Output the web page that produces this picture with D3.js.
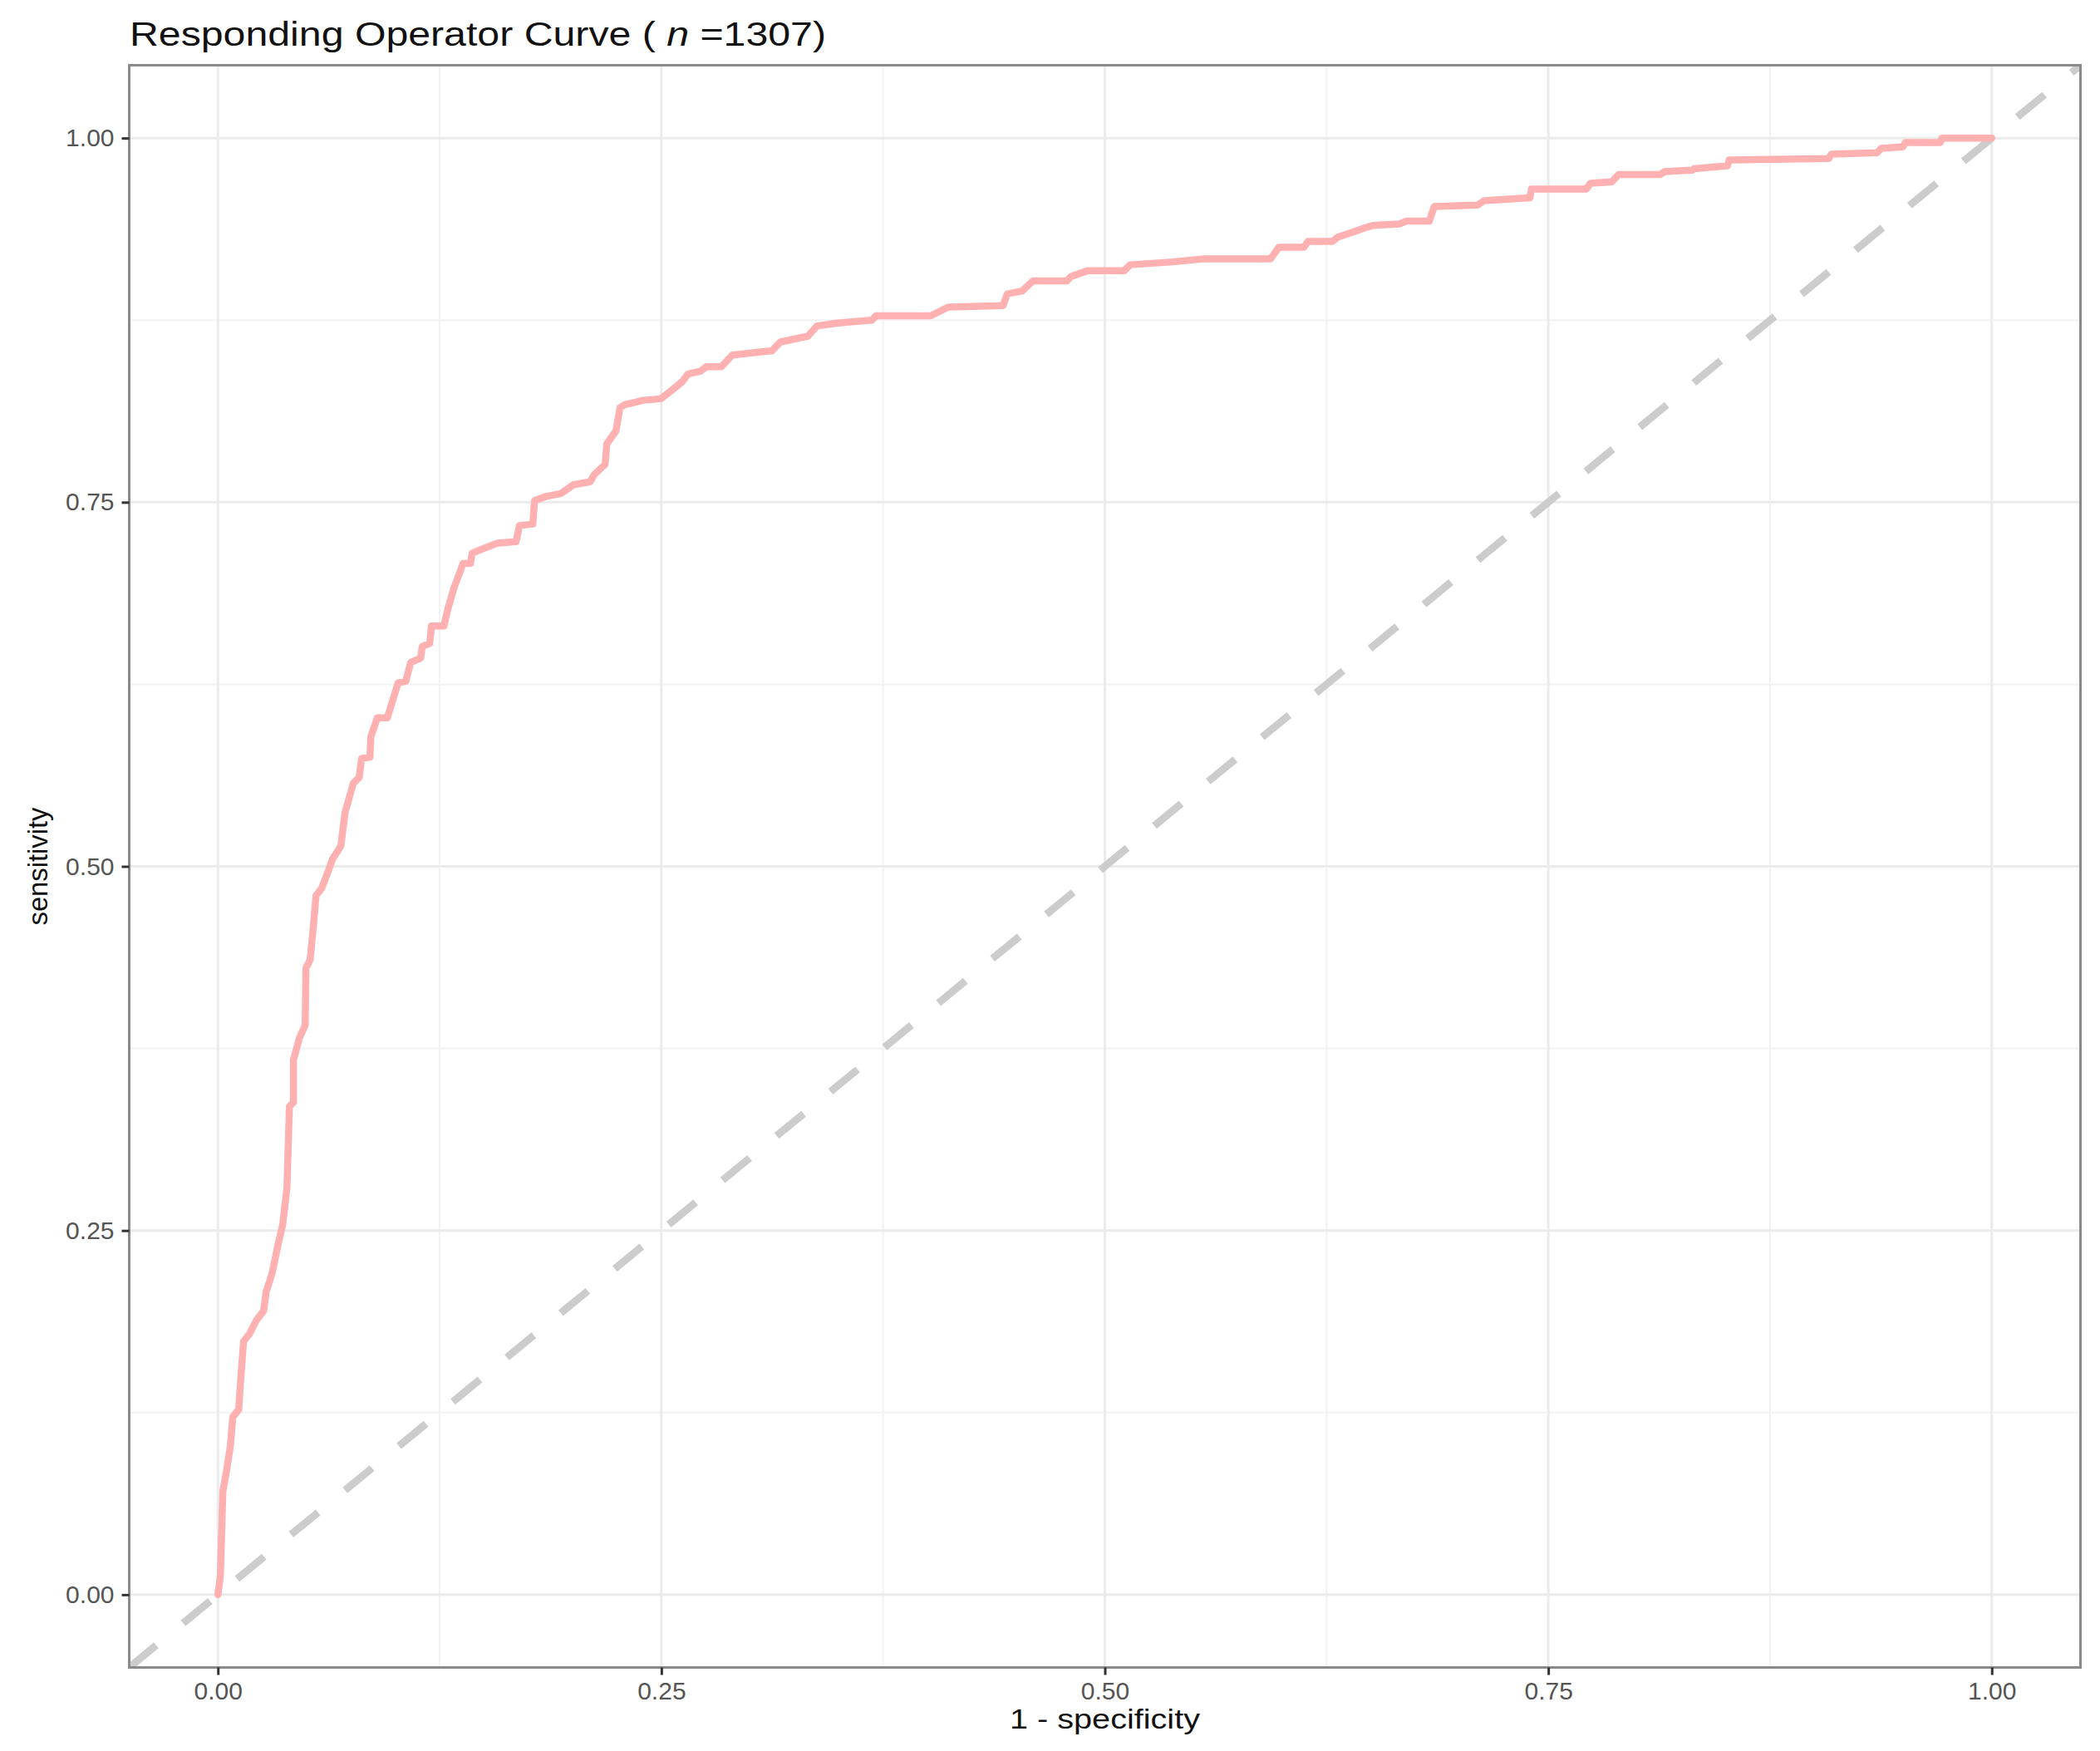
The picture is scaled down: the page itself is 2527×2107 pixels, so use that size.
<!DOCTYPE html>
<html>
<head>
<meta charset="utf-8">
<script src="https://cdn.jsdelivr.net/npm/d3@7"></script>
<style>
  html, body { margin: 0; padding: 0; background: #ffffff; }
  svg { display: block; }
  text { font-family: "Liberation Sans", Arial, Helvetica, sans-serif; }
</style>
</head>
<body>
<svg id="chart" width="2527" height="2107"></svg>
<script>
// ---- data ----
const titlePre = "Responding Operator Curve ( ";
const titleItalic = "n";
const titlePost = " =1307)";
const xAxisTitle = "1 - specificity";
const yAxisTitle = "sensitivity";

const majorTicks = [0, 0.25, 0.5, 0.75, 1];
const minorTicks = [0.125, 0.375, 0.625, 0.875];
const tickLabels = ["0.00", "0.25", "0.50", "0.75", "1.00"];

// ROC curve: 1 - specificity (fpr) and sensitivity (tpr)
const fpr = [0, 0.0014, 0.0028, 0.0047, 0.0070, 0.0084, 0.0117, 0.0131, 0.0145, 0.0178,
  0.0215, 0.0258, 0.0272, 0.0304, 0.0318, 0.0342, 0.0365, 0.0389, 0.0403, 0.0426,
  0.0426, 0.0459, 0.0492, 0.0496, 0.0520, 0.0539, 0.0553, 0.0585, 0.0623, 0.0646,
  0.0693, 0.0717, 0.0763, 0.0796, 0.0810, 0.0857, 0.0862, 0.0899, 0.0955, 0.1016,
  0.1059, 0.1087, 0.1143, 0.1152, 0.1194, 0.1204, 0.1274, 0.1297, 0.1330, 0.1358,
  0.1382, 0.1424, 0.1433, 0.1513, 0.1578, 0.1681, 0.1700, 0.1775, 0.1785, 0.1850,
  0.1934, 0.2005, 0.2098, 0.2122, 0.2183, 0.2192, 0.2244, 0.2267, 0.2295, 0.2398,
  0.2496, 0.2550, 0.2620, 0.2650, 0.2720, 0.2754, 0.2838, 0.2899, 0.3124, 0.3171,
  0.3326, 0.3377, 0.3494, 0.3686, 0.3710, 0.4019, 0.4117, 0.4426, 0.4450, 0.4534,
  0.4595, 0.4787, 0.4810, 0.4904, 0.5110, 0.5143, 0.5382, 0.5550, 0.5934, 0.5981,
  0.6122, 0.6145, 0.6281, 0.6314, 0.6389, 0.6482, 0.6511, 0.6660, 0.6698, 0.6829,
  0.6857, 0.7101, 0.7138, 0.7396, 0.7405, 0.7714, 0.7738, 0.7859, 0.7897, 0.8131,
  0.8155, 0.8314, 0.8323, 0.8510, 0.8520, 0.9082, 0.9096, 0.9354, 0.9377, 0.9499,
  0.9513, 0.9710, 0.9719, 1.0];
const tpr = [0, 0.013, 0.071, 0.084, 0.102, 0.122, 0.127, 0.152, 0.174, 0.179,
  0.188, 0.195, 0.208, 0.220, 0.228, 0.242, 0.254, 0.279, 0.335, 0.338,
  0.367, 0.382, 0.391, 0.430, 0.436, 0.460, 0.480, 0.485, 0.497, 0.505,
  0.514, 0.537, 0.557, 0.561, 0.574, 0.575, 0.589, 0.602, 0.602, 0.626,
  0.627, 0.640, 0.643, 0.651, 0.653, 0.665, 0.665, 0.677, 0.691, 0.700,
  0.708, 0.708, 0.715, 0.719, 0.722, 0.723, 0.734, 0.735, 0.751, 0.754,
  0.756, 0.762, 0.764, 0.769, 0.776, 0.790, 0.799, 0.815, 0.817, 0.820,
  0.821, 0.826, 0.833, 0.838, 0.840, 0.843, 0.843, 0.851, 0.854, 0.860,
  0.864, 0.871, 0.873, 0.875, 0.878, 0.878, 0.884, 0.885, 0.893, 0.895,
  0.902, 0.902, 0.905, 0.909, 0.909, 0.913, 0.915, 0.917, 0.917, 0.925,
  0.925, 0.929, 0.929, 0.932, 0.935, 0.939, 0.940, 0.941, 0.943, 0.943,
  0.953, 0.954, 0.957, 0.959, 0.965, 0.965, 0.969, 0.970, 0.975, 0.975,
  0.977, 0.978, 0.979, 0.981, 0.985, 0.986, 0.989, 0.990, 0.993, 0.994,
  0.997, 0.997, 1.000, 1.0];

// ---- layout ----
const svg = d3.select("#chart");
const panel = { left: 155.5, right: 2503.5, top: 78.5, bottom: 2006.5 };
const x = d3.scaleLinear().domain([-0.05, 1.05]).range([panel.left, panel.right]);
const y = d3.scaleLinear().domain([-0.05, 1.05]).range([panel.bottom, panel.top]);

svg.append("rect").attr("width", 2527).attr("height", 2107).attr("fill", "#ffffff");

// gridlines
const grid = svg.append("g");
minorTicks.forEach(v => {
  grid.append("line").attr("x1", x(v)).attr("x2", x(v)).attr("y1", panel.top).attr("y2", panel.bottom)
    .attr("stroke", "#f2f2f2").attr("stroke-width", 2);
  grid.append("line").attr("y1", y(v)).attr("y2", y(v)).attr("x1", panel.left).attr("x2", panel.right)
    .attr("stroke", "#f2f2f2").attr("stroke-width", 2);
});
majorTicks.forEach(v => {
  grid.append("line").attr("x1", x(v)).attr("x2", x(v)).attr("y1", panel.top).attr("y2", panel.bottom)
    .attr("stroke", "#ebebeb").attr("stroke-width", 3);
  grid.append("line").attr("y1", y(v)).attr("y2", y(v)).attr("x1", panel.left).attr("x2", panel.right)
    .attr("stroke", "#ebebeb").attr("stroke-width", 3);
});

// diagonal reference line
svg.append("clipPath").attr("id", "pclip").append("rect")
  .attr("x", panel.left).attr("y", panel.top)
  .attr("width", panel.right - panel.left).attr("height", panel.bottom - panel.top);

svg.append("line")
  .attr("clip-path", "url(#pclip)")
  .attr("x1", x(-0.05)).attr("y1", y(-0.05)).attr("x2", x(1.05)).attr("y2", y(1.05))
  .attr("stroke", "#cccccc").attr("stroke-width", 9)
  .attr("stroke-dasharray", "42,42");

// ROC curve
const pts = fpr.map((v, i) => [v, tpr[i]]);
svg.append("path")
  .datum(pts)
  .attr("fill", "none")
  .attr("stroke", "#ffb0b0")
  .attr("stroke-width", 8.5)
  .attr("stroke-linejoin", "round")
  .attr("stroke-linecap", "round")
  .attr("d", d3.line().x(d => x(d[0])).y(d => y(d[1])));

// panel border
svg.append("rect")
  .attr("x", panel.left).attr("y", panel.top)
  .attr("width", panel.right - panel.left).attr("height", panel.bottom - panel.top)
  .attr("fill", "none").attr("stroke", "#8a8a8a").attr("stroke-width", 3);

// axes
const fmt = (d) => tickLabels[majorTicks.indexOf(d)];
const xAxis = svg.append("g").attr("transform", `translate(0,${panel.bottom})`)
  .call(d3.axisBottom(x).tickValues(majorTicks).tickFormat(fmt).tickSize(9).tickPadding(8));
const yAxis = svg.append("g").attr("transform", `translate(${panel.left},0)`)
  .call(d3.axisLeft(y).tickValues(majorTicks).tickFormat(fmt).tickSize(9).tickPadding(9));
[xAxis, yAxis].forEach(a => {
  a.select(".domain").remove();
  a.selectAll(".tick line").attr("stroke", "#333333").attr("stroke-width", 3);
  a.selectAll(".tick text").attr("fill", "#555555").style("font-size", "30px")
    .style("font-family", "'Liberation Sans', Arial, sans-serif");
});
xAxis.selectAll(".tick text").attr("dy", "0.71em");

// titles
const t = svg.append("text").attr("x", 156).attr("y", 55)
  .attr("textLength", 838).attr("lengthAdjust", "spacingAndGlyphs")
  .style("font-size", "40px").attr("fill", "#111111");
t.append("tspan").text(titlePre);
t.append("tspan").style("font-style", "italic").text(titleItalic);
t.append("tspan").text(titlePost);

svg.append("text").attr("x", (panel.left + panel.right) / 2).attr("y", 2080)
  .attr("text-anchor", "middle")
  .attr("textLength", 229).attr("lengthAdjust", "spacingAndGlyphs")
  .style("font-size", "33px").attr("fill", "#111111").text(xAxisTitle);

svg.append("text")
  .attr("transform", `translate(57,${(panel.top + panel.bottom) / 2}) rotate(-90)`)
  .attr("text-anchor", "middle")
  .attr("textLength", 142).attr("lengthAdjust", "spacingAndGlyphs")
  .style("font-size", "33px").attr("fill", "#111111").text(yAxisTitle);
</script>
</body>
</html>
